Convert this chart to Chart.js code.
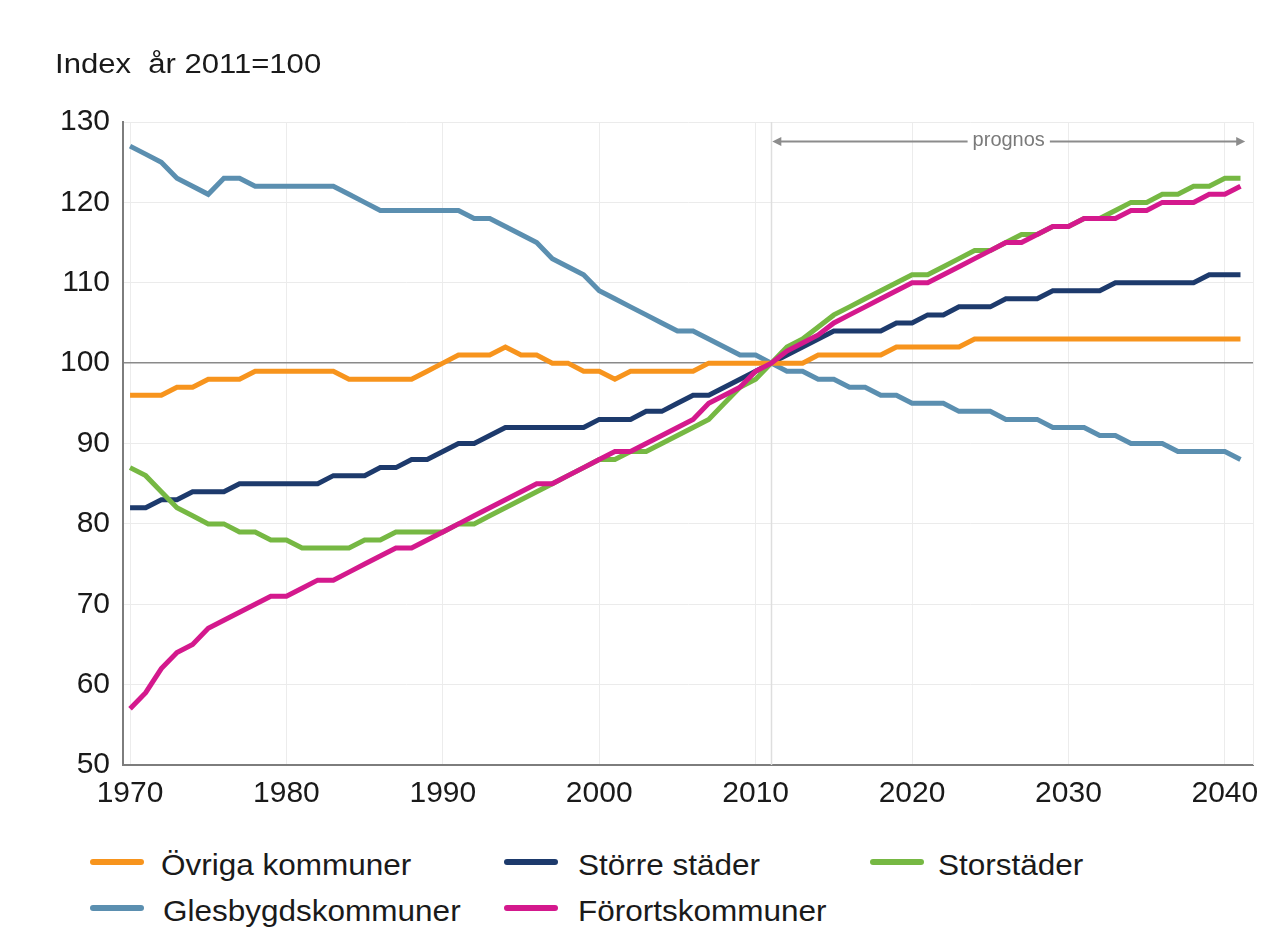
<!DOCTYPE html>
<html>
<head>
<meta charset="utf-8">
<script src="https://cdn.jsdelivr.net/npm/chart.js@4/dist/chart.umd.min.js"></script>
<style>
  html,body{margin:0;padding:0;background:#fff;}
  body{width:1276px;height:942px;overflow:hidden;position:relative;font-family:"Liberation Sans",Arial,sans-serif;color:#1a1a1a;}
  #wrap{position:absolute;left:0;top:0;width:1276px;height:830px;}
  #title{position:absolute;left:55px;top:51px;font-size:27px;line-height:1;white-space:pre;transform:scaleX(1.15);transform-origin:0 0;}
  .lg{position:absolute;font-size:30px;line-height:1;white-space:pre;transform:scaleX(1.05);transform-origin:0 0;}
  .sw{position:absolute;height:6px;border-radius:3px;}
</style>
</head>
<body>
<div id="wrap"><canvas id="c"></canvas></div>
<div id="title">Index  år 2011=100</div>
<div id="legend"></div>
<script>
// ---- data ----
const years = [];
for (let y = 1970; y <= 2041; y++) years.push(y);

const ovriga = [96,96,96,97,97,98,98,98,99,99,
  99,99,99,99,98,98,98,98,98,99,
  100,101,101,101,102,101,101,100,100,99,
  99,98,99,99,99,99,99,100,100,100,
  100,100,100,100,101,101,101,101,101,102,
  102,102,102,102,103,103,103,103,103,103,
  103,103,103,103,103,103,103,103,103,103,
  103,103];

const storreStader = [82,82,83,83,84,84,84,85,85,85,
  85,85,85,86,86,86,87,87,88,88,
  89,90,90,91,92,92,92,92,92,92,
  93,93,93,94,94,95,96,96,97,98,
  99,100,101,102,103,104,104,104,104,105,
  105,106,106,107,107,107,108,108,108,109,
  109,109,109,110,110,110,110,110,110,111,
  111,111];

const storstader = [87,86,84,82,81,80,80,79,79,78,
  78,77,77,77,77,78,78,79,79,79,
  79,80,80,81,82,83,84,85,86,87,
  88,88,89,89,90,91,92,93,95,97,
  98,100,102,103,104.5,106,107,108,109,110,
  111,111,112,113,114,114,115,116,116,117,
  117,118,118,119,120,120,121,121,122,122,
  123,123];

const glesbygd = [127,126,125,123,122,121,123,123,122,122,
  122,122,122,122,121,120,119,119,119,119,
  119,119,118,118,117,116,115,113,112,111,
  109,108,107,106,105,104,104,103,102,101,
  101,100,99,99,98,98,97,97,96,96,
  95,95,95,94,94,94,93,93,93,92,
  92,92,91,91,90,90,90,89,89,89,
  89,88];

const fororts = [57,59,62,64,65,67,68,69,70,71,
  71,72,73,73,74,75,76,77,77,78,
  79,80,81,82,83,84,85,85,86,87,
  88,89,89,90,91,92,93,95,96,97,
  99,100,101.5,102.5,103.5,105,106,107,108,109,
  110,110,111,112,113,114,115,115,116,117,
  117,118,118,118,119,119,120,120,120,121,
  121,122];

const seriesNames = ["Övriga kommuner","Större städer","Storstäder","Glesbygdskommuner","Förortskommuner"];
const seriesValues = [ovriga, storreStader, storstader, glesbygd, fororts];
const seriesColors = ["#f7941d","#1d3a6c","#76b843","#5b8fb0","#d4198d"];
const drawOrder = [3, 4, 2, 3, 0];

const xTicks = [1970,1980,1990,2000,2010,2020,2030,2040];
const yTicks = [50,60,70,80,90,100,110,120,130];
const baseYear = 2011;
const prognosEnd = 2041.3;
const prognosLabel = "prognos";

// ---- chart ----
const FONT = '"Liberation Sans", Arial, sans-serif';

const markerPlugin = {
  id: 'marker',
  beforeDatasetsDraw(chart) {
    const {ctx, chartArea, scales} = chart;
    const x = Math.round(scales.x.getPixelForValue(baseYear)) + 0.5;
    ctx.save();
    ctx.strokeStyle = '#dedede';
    ctx.lineWidth = 1.5;
    ctx.beginPath();
    ctx.moveTo(x, chartArea.top);
    ctx.lineTo(x, chartArea.bottom);
    ctx.stroke();
    ctx.strokeStyle = '#ededed';
    ctx.lineWidth = 1;
    ctx.beginPath();
    ctx.moveTo(chartArea.right + 0.5, chartArea.top);
    ctx.lineTo(chartArea.right + 0.5, chartArea.bottom);
    ctx.stroke();
    ctx.restore();
  },
  afterDatasetsDraw(chart) {
    const {ctx, chartArea, scales} = chart;
    const x0 = scales.x.getPixelForValue(baseYear) + 1;
    const x1 = scales.x.getPixelForValue(prognosEnd);
    const y = chartArea.top + 19.5;
    ctx.save();
    ctx.font = '20px ' + FONT;
    const tw = ctx.measureText(prognosLabel).width;
    const xm = (x0 + x1) / 2;
    ctx.strokeStyle = '#8c8c8c';
    ctx.fillStyle = '#8c8c8c';
    ctx.lineWidth = 2;
    ctx.beginPath();
    ctx.moveTo(x0 + 6, y);
    ctx.lineTo(xm - tw / 2 - 5, y);
    ctx.moveTo(xm + tw / 2 + 5, y);
    ctx.lineTo(x1 - 6, y);
    ctx.stroke();
    ctx.beginPath();
    ctx.moveTo(x0, y); ctx.lineTo(x0 + 9, y - 4.5); ctx.lineTo(x0 + 9, y + 4.5); ctx.closePath(); ctx.fill();
    ctx.beginPath();
    ctx.moveTo(x1, y); ctx.lineTo(x1 - 9, y - 4.5); ctx.lineTo(x1 - 9, y + 4.5); ctx.closePath(); ctx.fill();
    ctx.fillStyle = '#7a7a7a';
    ctx.textAlign = 'center';
    ctx.textBaseline = 'middle';
    ctx.fillText(prognosLabel, xm, y - 1);
    ctx.restore();
  }
};

const datasets = seriesNames.map((name, i) => ({
  label: name,
  data: years.map((yr, j) => ({x: yr, y: seriesValues[i][j]})),
  borderColor: seriesColors[i],
  backgroundColor: seriesColors[i],
  borderWidth: 5,
  pointRadius: 0,
  tension: 0,
  fill: false,
  order: drawOrder[i]
}));

new Chart(document.getElementById('c'), {
  type: 'line',
  data: { datasets },
  plugins: [markerPlugin],
  options: {
    responsive: true,
    maintainAspectRatio: false,
    animation: false,
    events: [],
    layout: { padding: { left: 0, top: 122, right: 23, bottom: 5 } },
    plugins: { legend: { display: false }, tooltip: { enabled: false }, title: { display: false } },
    scales: {
      x: {
        type: 'linear',
        min: 1969.55,
        max: 2041.8,
        afterBuildTicks: s => { s.ticks = xTicks.map(v => ({ value: v })); },
        afterFit: s => { s.height = 60; s.paddingLeft = 0; s.paddingRight = 0; },
        ticks: {
          callback: v => String(v),
          font: { family: FONT, size: 30 },
          color: '#1a1a1a',
          padding: 11,
          maxRotation: 0,
          autoSkip: false
        },
        grid: { color: '#ececec', lineWidth: 1, drawTicks: false },
        border: { display: true, color: '#7d7d7d', width: 2 }
      },
      y: {
        min: 50,
        max: 130,
        afterBuildTicks: s => { s.ticks = yTicks.map(v => ({ value: v })); },
        afterFit: s => { s.width = 123; },
        ticks: {
          font: { family: FONT, size: 30 },
          color: '#1a1a1a',
          padding: 13
        },
        grid: {
          color: c => (c.tick && c.tick.value === 100) ? '#8a8a8a' : '#ebebeb',
          lineWidth: c => (c.tick && c.tick.value === 100) ? 1.5 : 1,
          drawTicks: false
        },
        border: { display: true, color: '#7d7d7d', width: 2 }
      }
    }
  }
});

// ---- legend (HTML, built from the series arrays) ----
const legendSlots = [
  {sw: 90, tx: 161, row: 0},
  {sw: 504, tx: 578, row: 0},
  {sw: 870, tx: 938, row: 0},
  {sw: 90, tx: 163, row: 1},
  {sw: 504, tx: 578, row: 1}
];
const rowY = [862, 908];
const lg = document.getElementById('legend');
seriesNames.forEach((name, i) => {
  const s = legendSlots[i];
  const sw = document.createElement('div');
  sw.className = 'sw';
  sw.style.left = s.sw + 'px';
  sw.style.width = '54px';
  sw.style.top = (rowY[s.row] - 3) + 'px';
  sw.style.background = seriesColors[i];
  lg.appendChild(sw);
  const t = document.createElement('div');
  t.className = 'lg';
  t.style.left = s.tx + 'px';
  t.style.top = (rowY[s.row] - 12.5) + 'px';
  t.textContent = name;
  lg.appendChild(t);
});
</script>
</body>
</html>
